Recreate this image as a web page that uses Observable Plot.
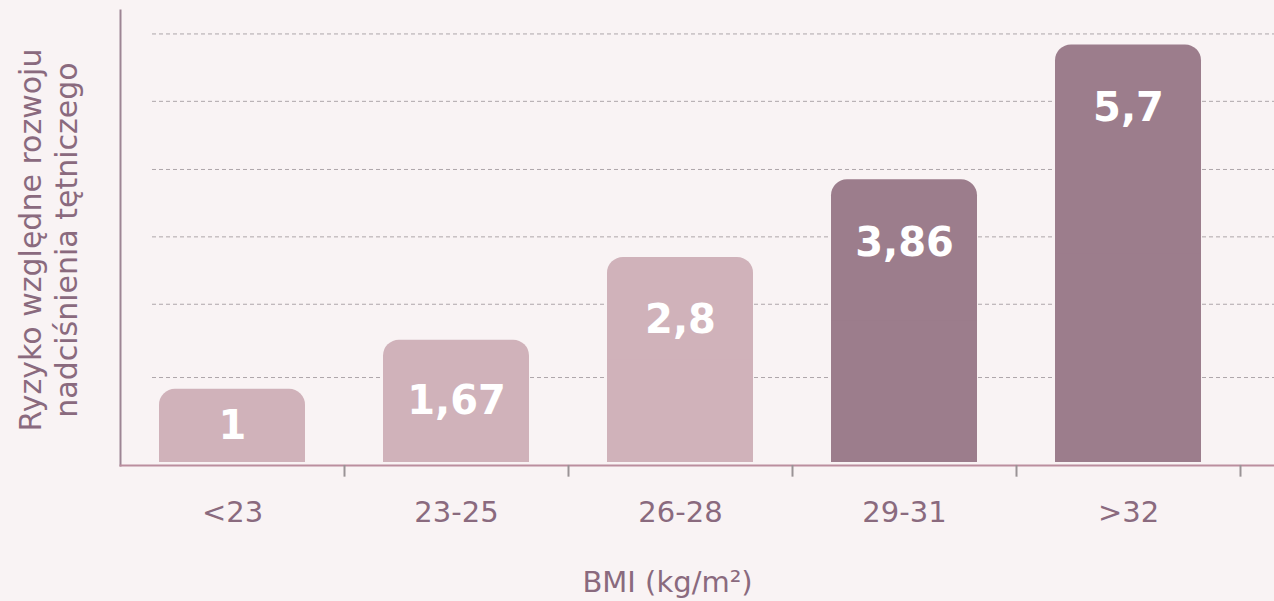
<!DOCTYPE html>
<html><head><meta charset="utf-8">
<script src="https://cdn.jsdelivr.net/npm/d3@7"></script>
<script src="https://cdn.jsdelivr.net/npm/@observablehq/plot@0.6"></script>
<style>html,body{margin:0;padding:0;background:#f9f3f4;} #chart{width:1274px;height:601px;}</style>
</head><body><div id="chart"></div>
<script>
const categories = ["<23", "23-25", "26-28", "29-31", ">32"];
const values = [1, 1.67, 2.8, 3.86, 5.7];
const valueLabels = ["1", "1,67", "2,8", "3,86", "5,7"];
const groups = ["niskie", "niskie", "niskie", "wysokie", "wysokie"];
const gridValues = [1.16, 2.16, 3.08, 4.0, 4.93, 5.85];
const xTitle = "BMI (kg/m²)";
const yTitleLines = ["Ryzyko względne rozwoju", "nadciśnienia tętniczego"];

const data = categories.map((c, i) => ({category: c, value: values[i], label: valueLabels[i], group: groups[i]}));
const textColor = "#8a6a7e";

const chart = Plot.plot({
  width: 1274,
  height: 601,
  marginTop: 10,
  marginLeft: 120,
  marginRight: 0,
  marginBottom: 136,
  style: {background: "#f9f3f4", fontFamily: "'DejaVu Sans', Verdana, sans-serif", overflow: "visible"},
  x: {domain: categories, range: [120, 1240], paddingInner: 0.348, paddingOuter: 0.174, label: null},
  y: {domain: [0, 6.17], range: [462, 10], axis: null},
  color: {domain: ["niskie", "wysokie"], range: ["#d0b2ba", "#9c7d8c"]},
  marks: [
    Plot.ruleY(gridValues, {stroke: "#aea6aa", strokeWidth: 1, strokeDasharray: "4,3", insetLeft: 32}),
    Plot.barY(data, {x: "category", y1: 0, y2: "value", fill: "group", rx: 16}),
    Plot.barY(data, {x: "category", y1: 0, y2: d => d.value / 2, fill: "group"}),
    Plot.frame({anchor: "left", stroke: "#9e8594", strokeWidth: 2}),
    Plot.frame({anchor: "bottom", stroke: "#bb8e9e", strokeWidth: 2}),
    Plot.ruleX(categories, {x: d => d, dx: 112, y1: -0.04, y2: -0.2, stroke: "#9a9396", strokeWidth: 2}),
    Plot.axisX({tickSize: 0, tickPadding: 36, fontSize: 29, fill: textColor, label: null}),
    Plot.text(data, {x: "category", y: d => Math.max(d.value - 0.86, d.value / 2), text: "label",
      fill: "white", fontSize: 40, fontWeight: "bold", lineAnchor: "middle"}),
    Plot.text([xTitle], {frameAnchor: "bottom", dy: 117, dx: -30, fontSize: 29, fill: textColor, textAnchor: "middle", lineAnchor: "middle"}),
    Plot.text([yTitleLines.join("\n")], {frameAnchor: "left", rotate: -90, dx: -73, dy: 2, fontSize: 30, lineHeight: 1.18, fill: textColor, textAnchor: "middle", lineAnchor: "middle"})
  ]
});
document.getElementById("chart").appendChild(chart);
</script>
</body></html>
